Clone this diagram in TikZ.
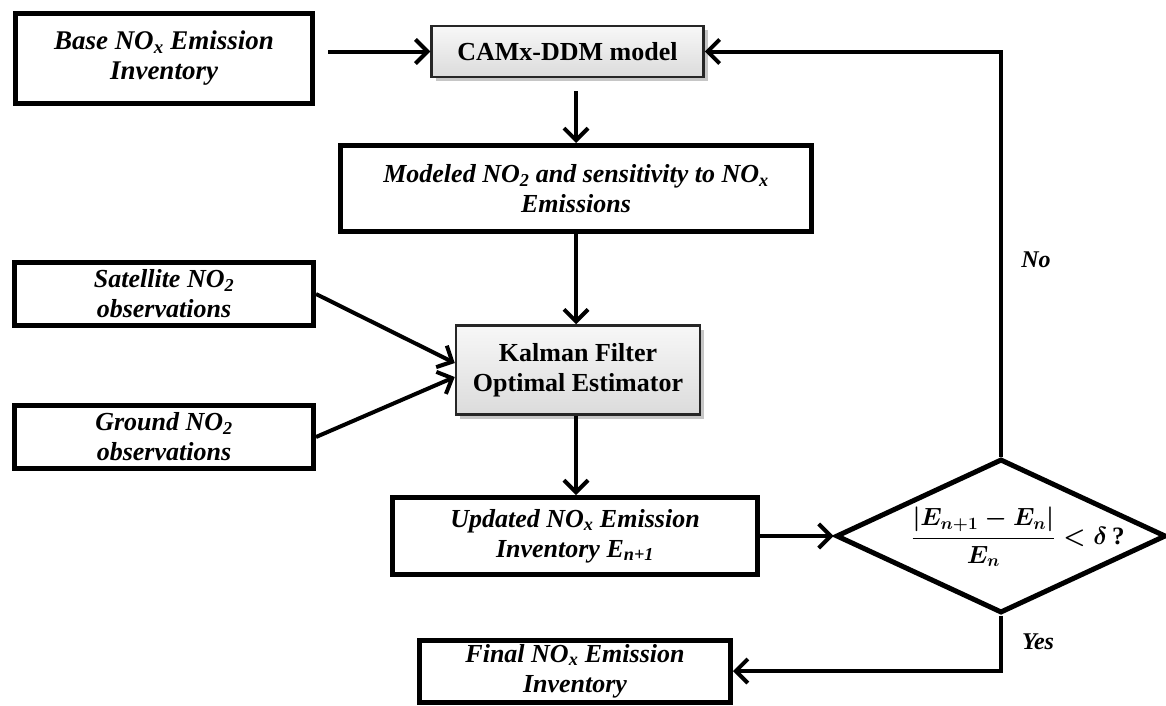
\documentclass[tikz,border=0pt]{standalone}
\usepackage{fontspec}
\setmainfont{Liberation Serif}
\usepackage{amsmath}
\usetikzlibrary{arrows.meta,shapes.geometric,shadows}
\newcommand{\critformula}{{\boldmath$\dfrac{\lvert E_{n+1}-E_{n}\rvert}{E_{n}}<\delta\,$}\textbf{?}}
\begin{document}
\begin{tikzpicture}[x=1pt,y=-1pt,
  box/.style={draw, line width=5pt, rectangle, inner sep=0pt, align=center,
    font=\bfseries\itshape\fontsize{26}{30}\selectfont},
  shbox/.style={draw=black!85, line width=2.5pt, rectangle, inner sep=0pt, align=center,
    top color=gray!6, bottom color=gray!28,
    drop shadow={opacity=0.45, shadow xshift=4pt, shadow yshift=-4pt},
    font=\bfseries\fontsize{26}{30}\selectfont},
  arr/.style={line width=4pt, -{Straight Barb[length=12pt,width=24pt]}},
  lbl/.style={font=\bfseries\itshape\fontsize{24}{28}\selectfont},
  formula/.style={font=\fontsize{25}{28}\selectfont}]
\useasboundingbox (0,0) rectangle (1166,705);

\node[box, minimum width=297pt, minimum height=90pt, font=\bfseries\itshape\fontsize{27}{30}\selectfont] (base) at (164,58.5) {Base NO\textsubscript{x} Emission\\Inventory};
\node[shbox, minimum width=272pt, minimum height=51pt] (camx) at (567.5,51.5) {CAMx-DDM model};
\node[box, minimum width=471pt, minimum height=86pt] (modeled) at (576,188.5) {Modeled NO\textsubscript{2} and sensitivity to NO\textsubscript{x}\\Emissions};
\node[box, minimum width=299pt, minimum height=63pt] (sat) at (164,294) {Satellite NO\textsubscript{2}\\observations};
\node[box, minimum width=299pt, minimum height=63pt] (ground) at (164,437) {Ground NO\textsubscript{2}\\observations};
\node[shbox, minimum width=244pt, minimum height=89pt] (kal) at (578,370) {Kalman Filter\\Optimal Estimator};
\node[box, minimum width=365pt, minimum height=77pt] (updated) at (575,536) {Updated NO\textsubscript{x} Emission\\Inventory E\textsubscript{n+1}};
\node[draw, diamond, line width=5pt, inner sep=0pt, minimum width=330pt, minimum height=154pt] (dec) at (1001,536) {};
\node[formula] (crit) at (1018,537) {\critformula};
\node[box, minimum width=311pt, minimum height=62pt] (final) at (575,671) {Final NO\textsubscript{x} Emission\\Inventory};

\node[lbl] (no) at (1036,260) {No};
\node[lbl] (yes) at (1038,642) {Yes};

\draw[arr] ([xshift=13pt]base.east |- camx.west) -- (camx.west);
\draw[arr] ([yshift=-13pt]camx.south -| modeled.north) -- (modeled.north);
\draw[arr] (modeled.south) -- (modeled.south |- kal.north);
\draw[arr] (sat.east) -- ([yshift=7pt]kal.west);
\draw[arr] (ground.east) -- ([yshift=-7pt]kal.west);
\draw[arr] (modeled.south |- kal.south) -- (modeled.south |- updated.north);
\draw[arr] (updated.east) -- (dec.west);
\draw[arr] (dec.north) |- (camx.east);
\draw[arr] (dec.south) |- (final.east);
\end{tikzpicture}
\end{document}
